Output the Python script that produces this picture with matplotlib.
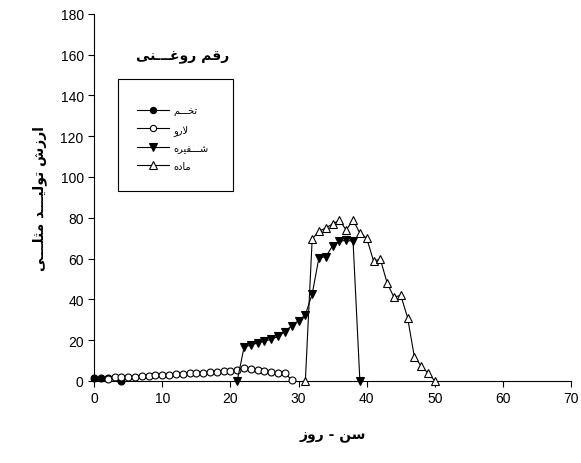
import matplotlib
matplotlib.use("Agg")
import matplotlib.pyplot as plt
from matplotlib.patches import Rectangle

# ---- data ----
egg_x = [0, 1, 2, 4]
egg_y = [1.6, 1.6, 1.6, 0]

larva_x = [2, 3, 4, 5, 6, 7, 8, 9, 10, 11, 12, 13, 14, 15, 16, 17, 18, 19, 20,
           21, 22, 23, 24, 25, 26, 27, 28, 29]
larva_y = [0.9, 1.8, 1.9, 2.0, 2.1, 2.3, 2.5, 2.7, 2.9, 3.1, 3.3, 3.5, 3.7, 3.9,
           4.1, 4.3, 4.5, 4.7, 5.0, 5.3, 6.3, 5.7, 5.2, 4.8, 4.4, 4.0, 3.9, 0.3]

pupa_x = [21, 22, 23, 24, 25, 26, 27, 28, 29, 30, 31, 32, 33, 34, 35, 36, 37, 38, 39]
pupa_y = [0, 16.5, 17.6, 18.6, 19.5, 20.4, 21.8, 24.2, 27.1, 29.5, 32.4, 42.6,
          60.5, 60.8, 66.3, 68.4, 69.0, 68.4, 0]

adult_x = [31, 32, 33, 34, 35, 36, 37, 38, 39, 40, 41, 42, 43, 44, 45, 46, 47, 48, 49, 50]
adult_y = [0, 69.6, 73.4, 75.0, 77.0, 78.7, 74.0, 79.0, 72.4, 70.0, 58.8, 59.7,
           48.0, 41.0, 42.0, 31.0, 11.7, 7.3, 3.8, 0]

labels = ["تخـــم", "لارو", "شـــفیره", "ماده"]
title_txt = "رقم روغـــنی"
xlabel_txt = "سن - روز"
ylabel_txt = "ارزش تولیـــد مثلـــی"

# ---- simple Arabic/Persian shaping (matplotlib has no shaping engine) ----
FORMS = {
    'ا': ('\uFE8D', '\uFE8E', None, None),
    'د': ('\uFEA9', '\uFEAA', None, None),
    'ر': ('\uFEAD', '\uFEAE', None, None),
    'ز': ('\uFEAF', '\uFEB0', None, None),
    'و': ('\uFEED', '\uFEEE', None, None),
    'ت': ('\uFE95', '\uFE96', '\uFE97', '\uFE98'),
    'ث': ('\uFE99', '\uFE9A', '\uFE9B', '\uFE9C'),
    'خ': ('\uFEA5', '\uFEA6', '\uFEA7', '\uFEA8'),
    'س': ('\uFEB1', '\uFEB2', '\uFEB3', '\uFEB4'),
    'ش': ('\uFEB5', '\uFEB6', '\uFEB7', '\uFEB8'),
    'غ': ('\uFECD', '\uFECE', '\uFECF', '\uFED0'),
    'ف': ('\uFED1', '\uFED2', '\uFED3', '\uFED4'),
    'ق': ('\uFED5', '\uFED6', '\uFED7', '\uFED8'),
    'ل': ('\uFEDD', '\uFEDE', '\uFEDF', '\uFEE0'),
    'م': ('\uFEE1', '\uFEE2', '\uFEE3', '\uFEE4'),
    'ن': ('\uFEE5', '\uFEE6', '\uFEE7', '\uFEE8'),
    'ه': ('\uFEE9', '\uFEEA', '\uFEEB', '\uFEEC'),
    'ی': ('\uFEEF', '\uFEF0', '\uFEF3', '\uFEF4'),
}
RIGHT_ONLY = set('ادرزو')
TATWEEL = 'ـ'


def is_ar(c):
    return c in FORMS or c == TATWEEL


def dual(c):
    return c == TATWEEL or (c in FORMS and c not in RIGHT_ONLY)


def shape(text):
    out = []
    n = len(text)
    i = 0
    while i < n:
        c = text[i]
        prev = text[i - 1] if i > 0 else None
        join_prev = prev is not None and dual(prev) and is_ar(c)
        if c == 'ل' and i + 1 < n and text[i + 1] == 'ا':
            out.append('\uFEFC' if join_prev else '\uFEFB')
            i += 2
            continue
        if c not in FORMS:
            out.append(c)
            i += 1
            continue
        nxt = text[i + 1] if i + 1 < n else None
        join_next = dual(c) and nxt is not None and is_ar(nxt)
        iso, fin, ini, med = FORMS[c]
        if join_prev and join_next:
            out.append(med)
        elif join_prev:
            out.append(fin)
        elif join_next:
            out.append(ini)
        else:
            out.append(iso)
        i += 1
    return ''.join(reversed(out))


plt.rcParams['font.family'] = ['Liberation Sans', 'DejaVu Sans']
AR_FONT = ['DejaVu Sans']

fig = plt.figure(figsize=(5.81, 4.64), dpi=100)
ax = fig.add_axes([0.162, 0.177, 0.821, 0.791])

ax.plot(egg_x, egg_y, color='black', lw=0.8, marker='o', ms=5,
        mfc='black', mec='black', mew=0.8, clip_on=False, zorder=3, label=shape(labels[0]))
ax.plot(larva_x, larva_y, color='black', lw=0.8, marker='o', ms=5,
        mfc='white', mec='black', mew=0.8, clip_on=False, zorder=4, label=shape(labels[1]))
ax.plot(pupa_x, pupa_y, color='black', lw=0.8, marker='v', ms=6,
        mfc='black', mec='black', mew=0.8, clip_on=False, zorder=5, label=shape(labels[2]))
ax.plot(adult_x, adult_y, color='black', lw=0.8, marker='^', ms=6,
        mfc='white', mec='black', mew=0.8, clip_on=False, zorder=6, label=shape(labels[3]))

ax.set_xlim(0, 70)
ax.set_ylim(0, 180)
ax.set_xticks(range(0, 71, 10))
ax.set_yticks(range(0, 181, 20))
ax.spines['top'].set_visible(False)
ax.spines['right'].set_visible(False)
ax.tick_params(direction='out', length=4, width=0.8, labelsize=10, colors='black')

ax.set_xlabel(shape(xlabel_txt), family=AR_FONT, fontweight='bold', fontsize=10, labelpad=16)
ax.set_ylabel(shape(ylabel_txt), family=AR_FONT, fontweight='bold', fontsize=10, labelpad=10)

ax.text(0.185, 0.885, shape(title_txt), transform=ax.transAxes, ha='center', va='center',
        family=AR_FONT, fontweight='bold', fontsize=10)

# legend box (drawn larger than the entries, like the original)
ax.add_patch(Rectangle((0.05, 0.518), 0.241, 0.305, transform=ax.transAxes,
                       fill=False, ec='black', lw=0.8, zorder=7))
leg = ax.legend(loc='upper left', bbox_to_anchor=(0.08, 0.763), frameon=False,
                prop={'family': AR_FONT, 'size': 7}, handlelength=3.3,
                handletextpad=0.4, labelspacing=0.82, borderpad=0, markerscale=0.9)

fig.savefig('out.png', dpi=100)
